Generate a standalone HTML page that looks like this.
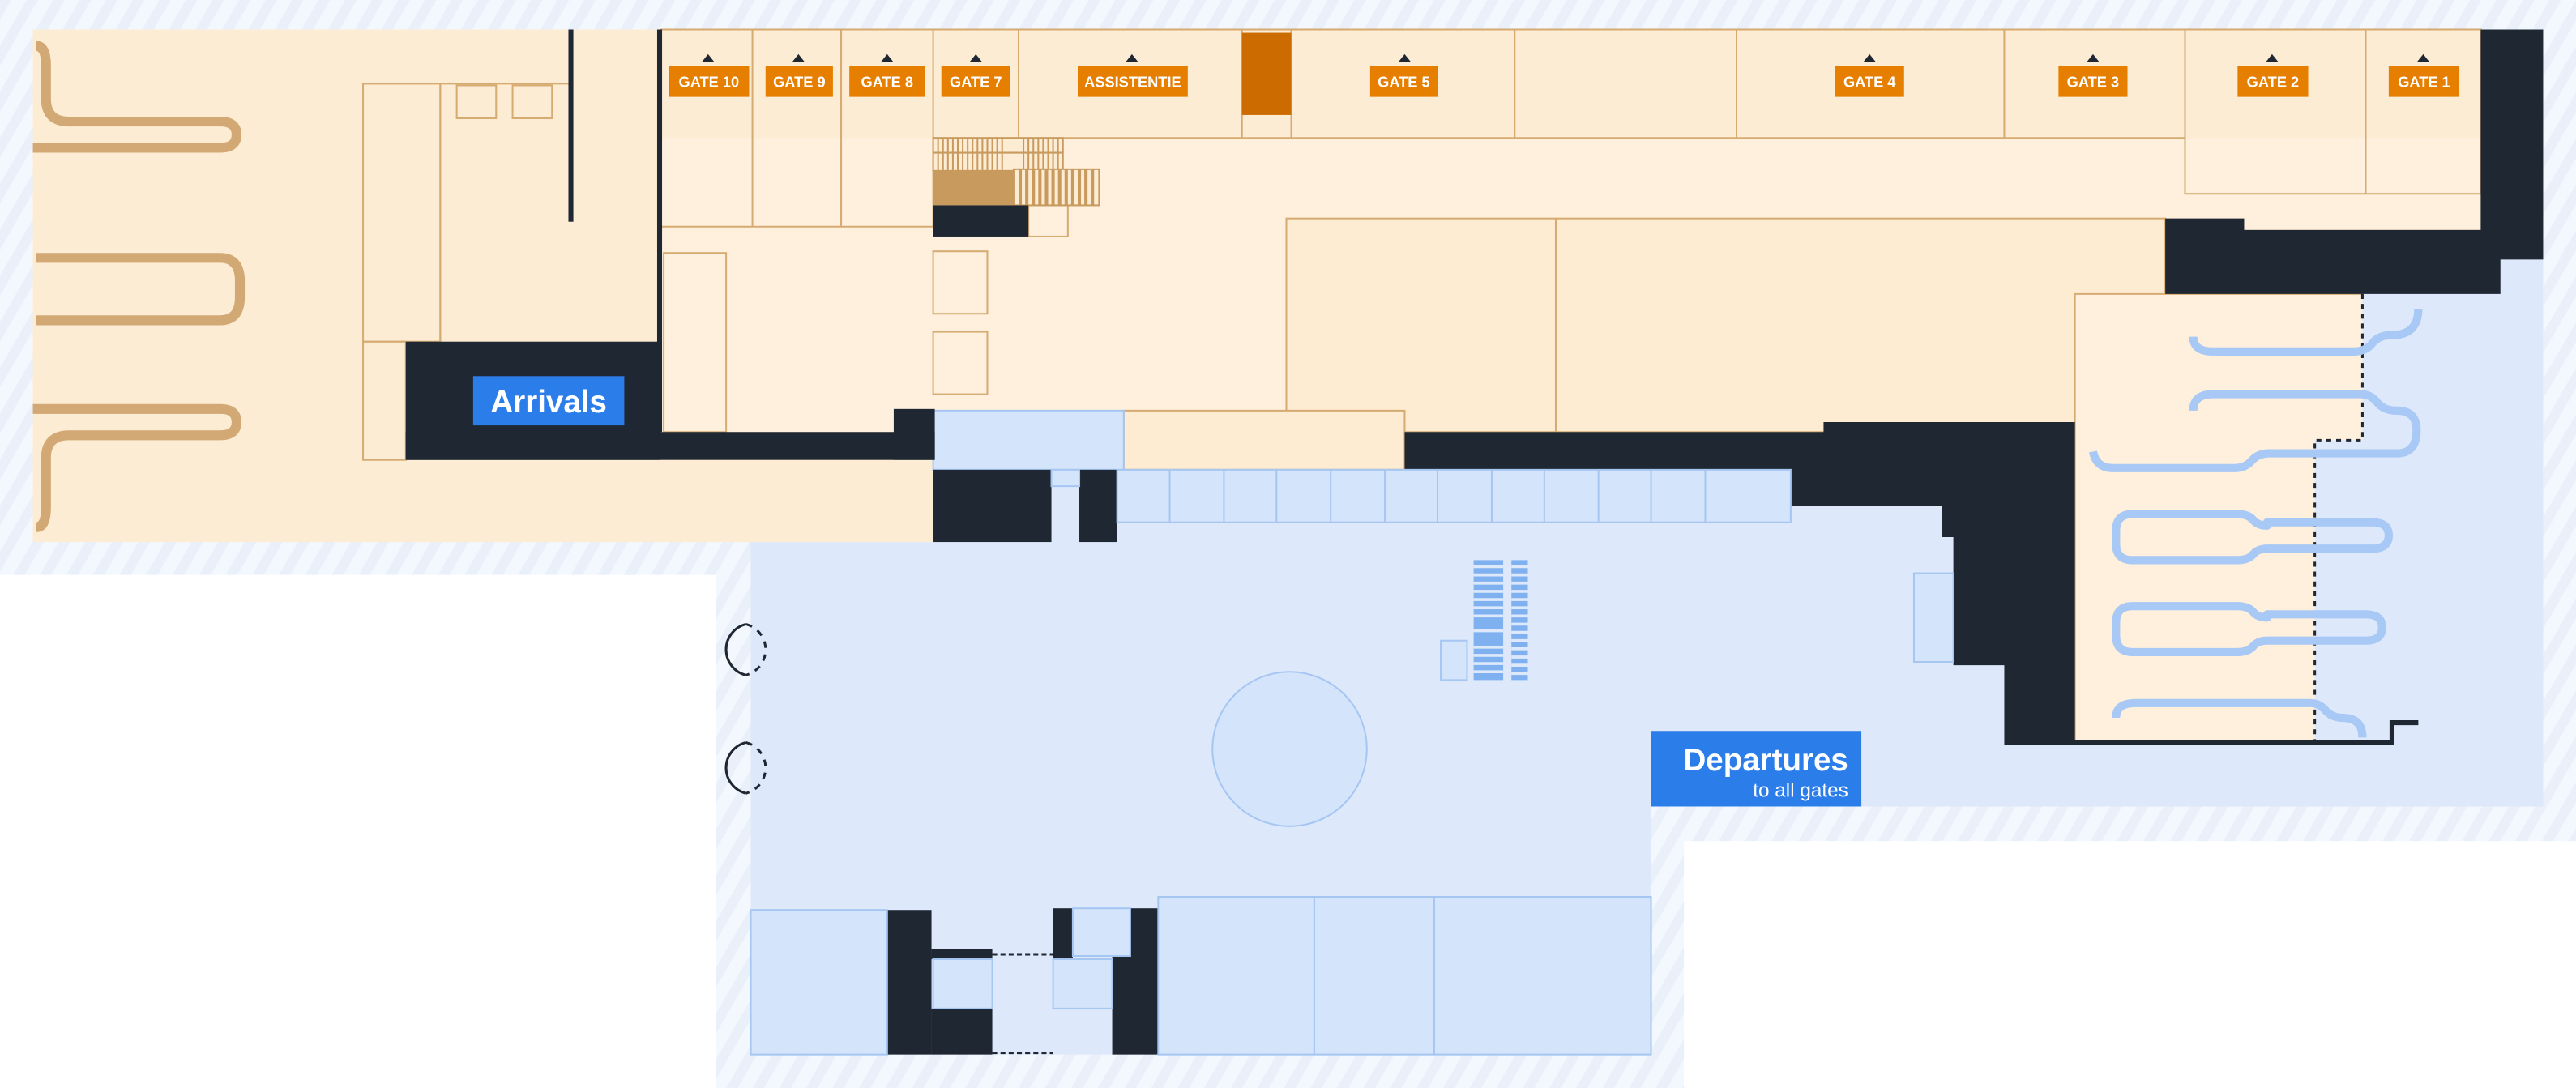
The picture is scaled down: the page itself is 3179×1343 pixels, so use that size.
<!DOCTYPE html>
<html><head><meta charset="utf-8"><style>
html,body{margin:0;padding:0;background:#fff;}
svg{display:block;}
text{font-family:"Liberation Sans",sans-serif;}
</style></head><body>
<svg width="3179" height="1343" viewBox="0 0 1568 662.4" preserveAspectRatio="none" xmlns="http://www.w3.org/2000/svg">
<defs>
<pattern id="h" width="14" height="14" patternUnits="userSpaceOnUse" patternTransform="rotate(30)">
<rect width="14" height="14" fill="#f3f7fe"/><rect width="6" height="14" fill="#e9f0fa"/>
</pattern>
</defs>
<polygon points="0,0 1568,0 1568,512 1025,512 1025,662.4 436,662.4 436,350 0,350" fill="url(#h)"/>
<rect x="457" y="286" width="548" height="356" fill="#dde9fb"/>
<rect x="1005" y="300" width="543" height="191" fill="#dde9fb"/>
<rect x="1263" y="158" width="285" height="333" fill="#dde9fb"/>
<rect x="20" y="18" width="548" height="312" fill="#fdecd4"/>
<rect x="402" y="18" width="1108" height="122" fill="#fdecd4" stroke="#d6ab72" stroke-width="1"/>
<rect x="402" y="84" width="1108" height="56" fill="#fef0dd"/>
<rect x="402" y="138" width="916" height="125" fill="#fef0dd"/>
<rect x="783" y="133" width="535" height="130" fill="#fdebd2" stroke="#d6ab72" stroke-width="1"/>
<line x1="947" y1="133" x2="947" y2="263" stroke="#d6ab72"/>
<polygon points="1263,179 1438,179 1438,268 1409,268 1409,451 1263,451" fill="#fef0dd"/>
<path d="M1438 179H1263V451" stroke="#d6ab72" fill="none"/>
<rect x="684" y="250" width="171" height="36" fill="#fdebd2" stroke="#d6ab72"/>
<rect x="568" y="250" width="116" height="36" fill="#d4e5fb" stroke="#a6c6f2"/>
<g stroke="#d6ab72" stroke-width="1" fill="none">
<line x1="458" y1="18" x2="458" y2="138"/><line x1="512" y1="18" x2="512" y2="138"/><line x1="568" y1="18" x2="568" y2="138"/>
<line x1="620" y1="18" x2="620" y2="84"/><line x1="756" y1="18" x2="756" y2="84"/><line x1="786" y1="18" x2="786" y2="84"/>
<line x1="922" y1="18" x2="922" y2="84"/><line x1="1057" y1="18" x2="1057" y2="84"/><line x1="1220" y1="18" x2="1220" y2="84"/>
<line x1="568" y1="84" x2="1330" y2="84"/><line x1="402" y1="138" x2="568" y2="138"/>
<rect x="1330" y="18" width="180" height="100"/><line x1="1440" y1="18" x2="1440" y2="118"/>
<rect x="221" y="51" width="47" height="157"/><line x1="268" y1="51" x2="347" y2="51"/><line x1="268" y1="51" x2="268" y2="208"/>
<rect x="278" y="52" width="24" height="20"/><rect x="312" y="52" width="24" height="20"/>
<rect x="221" y="208" width="26" height="72"/>
<rect x="404" y="154" width="38" height="109"/>
<rect x="568" y="153" width="33" height="38"/><rect x="568" y="202" width="33" height="38"/>
<rect x="626" y="125" width="24" height="19"/>
</g>
<g stroke="#c89a5e" stroke-width="1">
<rect x="568" y="84" width="79" height="20" fill="#fdecd4"/>
<path d="M571 84v20M574 84v20M577 84v20M580 84v20M583 84v20M586 84v20M589 84v20M592 84v20M595 84v20M598 84v20M601 84v20M604 84v20M607 84v20M610 84v20M623 84v20M626 84v20M629 84v20M632 84v20M635 84v20M638 84v20M641 84v20M644 84v20M568 93h79"/>
<rect x="617" y="103" width="52" height="22" fill="#fdecd4"/>
<path d="M621 103v22M625 103v22M629 103v22M633 103v22M637 103v22M641 103v22M645 103v22M649 103v22M653 103v22M657 103v22M661 103v22M665 103v22" stroke-width="2"/>
</g>
<rect x="568" y="104" width="49" height="21" fill="#c89a5e"/>
<rect x="756" y="20" width="30" height="50" fill="#cc6c00"/>
<g fill="#1f2733">
<rect x="346" y="18" width="3" height="117"/><rect x="400" y="18" width="3" height="245"/>
<rect x="247" y="208" width="155" height="72"/><rect x="247" y="263" width="322" height="17"/><rect x="544" y="249" width="25" height="31"/>
<rect x="568" y="125" width="58" height="19"/>
<rect x="568" y="286" width="72" height="44"/><rect x="657" y="286" width="23" height="44"/>
<polygon points="1510,18 1548,18 1548,158 1522,158 1522,179 1318,179 1318,133 1366,133 1366,140 1510,140"/>
<polygon points="855,263 1110,263 1110,257 1263,257 1263,451 1220,451 1220,405 1189,405 1189,327 1182,327 1182,308 1090,308 1090,286 855,286"/>
<rect x="540" y="554" width="27" height="88"/><rect x="567" y="578" width="37" height="6"/><rect x="567" y="614" width="37" height="28"/>
<rect x="641" y="553" width="12" height="31"/><rect x="677" y="582" width="28" height="60"/><rect x="688" y="553" width="17" height="30"/>
</g>
<path d="M1220 452H1456V440H1472" stroke="#1f2733" stroke-width="3" fill="none"/>
<g fill="#d4e5fb" stroke="#a6c6f2" stroke-width="1">
<rect x="680" y="286" width="410" height="32"/>
<rect x="640" y="286" width="17" height="10"/>
<rect x="457" y="554" width="83" height="88"/>
<rect x="568" y="584" width="36" height="30"/><rect x="641" y="584" width="36" height="30"/><rect x="653" y="553" width="35" height="29"/>
<rect x="705" y="546" width="95" height="96"/><rect x="800" y="546" width="73" height="96"/><rect x="873" y="546" width="132" height="96"/>
<circle cx="785" cy="456" r="47"/>
<rect x="877" y="390" width="16" height="24"/><rect x="1165" y="349" width="24" height="54"/>
</g>
<g stroke="#a6c6f2"><path d="M712 286v32M745 286v32M777 286v32M810 286v32M843 286v32M875 286v32M908 286v32M940 286v32M973 286v32M1005 286v32M1038 286v32"/></g>
<path d="M604 581h37M604 641h37" stroke="#1f2733" stroke-dasharray="3 2" stroke-width="1.5"/>
<g fill="#7fb0ef"><rect x="897" y="341" width="18" height="73"/><rect x="920" y="341" width="10" height="73"/></g>
<path d="M897 345h18M897 350h18M897 355h18M897 360h18M897 365h18M897 370h18M897 375h18M897 384h18M897 394h18M897 399h18M897 404h18M897 409h18M920 345h10M920 350h10M920 355h10M920 360h10M920 365h10M920 370h10M920 375h10M920 380h10M920 385h10M920 390h10M920 395h10M920 400h10M920 405h10M920 410h10" stroke="#dde9fb" stroke-width="1.8"/>
<g stroke="#1f2733" stroke-width="1.5" fill="none">
<path d="M454 380a16 16 0 0 0 0 31"/><path d="M454 380a16 16 0 0 1 0 31" stroke-dasharray="4 4"/>
<path d="M454 452a16 16 0 0 0 0 31"/><path d="M454 452a16 16 0 0 1 0 31" stroke-dasharray="4 4"/>
</g>
<path d="M1438 179V268H1409V451" stroke="#1f2733" stroke-width="1.5" stroke-dasharray="3 3" fill="none"/>
<g stroke="#a8c8f5" stroke-width="5" fill="none" stroke-linecap="butt" stroke-linejoin="round">
<path d="M1335 205q0 9 12 9h86q7 0 11-5q4-5 12-5q16 0 16-16"/>
<path d="M1335 250q0-10 12-10h90q6 0 10 5q4 5 12 5q12 0 12 12q0 14-12 14h-78q-6 0-10 4q-4 5-11 5h-74q-10 0-12-10"/>
<path d="M1380 318h64q10 0 10 8q0 8-10 8h-64q-6 0-9 4q-3 3-9 3h-64q-10 0-10-10v-8q0-10 10-10h64q6 0 9 3q3 4 9 4z"/>
<path d="M1380 374h60q10 0 10 8q0 8-10 8h-60q-6 0-9 4q-3 3-9 3h-64q-10 0-10-10v-8q0-10 10-10h64q6 0 9 3q3 4 9 4z"/>
<path d="M1288 437q0-9 12-9h106q6 0 10 5q4 4 10 4q12 0 12 12"/>
</g>
<g stroke="#d2a874" stroke-width="6" fill="none">
<path d="M22 28q6 0 6 12v20q0 14 14 14h92q10 0 10 8q0 8-10 8h-114"/>
<path d="M22 157h112q12 0 12 14v10q0 14-12 14h-112"/>
<path d="M22 321q6 0 6-12v-30q0-14 14-14h92q10 0 10-8q0-8-10-8h-114"/>
</g>
<g fill="#e67e00">
<rect x="407" y="40" width="49" height="19"/><rect x="466" y="40" width="41" height="19"/><rect x="517" y="40" width="46" height="19"/>
<rect x="573" y="40" width="42" height="19"/><rect x="656" y="40" width="67" height="19"/><rect x="834" y="40" width="41" height="19"/>
<rect x="1117" y="40" width="42" height="19"/><rect x="1253" y="40" width="42" height="19"/><rect x="1362" y="40" width="43" height="19"/><rect x="1454" y="40" width="43" height="19"/>
</g>
<g fill="#1f2733">
<path d="M427 38l4-5l4 5z"/><path d="M482 38l4-5l4 5z"/><path d="M536 38l4-5l4 5z"/><path d="M590 38l4-5l4 5z"/><path d="M685 38l4-5l4 5z"/>
<path d="M851 38l4-5l4 5z"/><path d="M1134 38l4-5l4 5z"/><path d="M1270 38l4-5l4 5z"/><path d="M1379 38l4-5l4 5z"/><path d="M1471 38l4-5l4 5z"/>
</g>
<g fill="#fff" font-size="9" font-weight="bold" text-anchor="middle">
<text x="431.5" y="53">GATE 10</text><text x="486.5" y="53">GATE 9</text><text x="540" y="53">GATE 8</text><text x="594" y="53">GATE 7</text>
<text x="689.5" y="53">ASSISTENTIE</text><text x="854.5" y="53">GATE 5</text><text x="1138" y="53">GATE 4</text><text x="1274" y="53">GATE 3</text>
<text x="1383.5" y="53">GATE 2</text><text x="1475.5" y="53">GATE 1</text>
</g>
<rect x="288" y="229" width="92" height="30" fill="#2b7de9"/>
<text x="334" y="251" fill="#fff" font-size="19" font-weight="bold" text-anchor="middle">Arrivals</text>
<rect x="1005" y="445" width="128" height="46" fill="#2b7de9"/>
<text x="1125" y="469" fill="#fff" font-size="19" font-weight="bold" text-anchor="end">Departures</text>
<text x="1125" y="485" fill="#fff" font-size="12" text-anchor="end">to all gates</text>
</svg>
</body></html>
